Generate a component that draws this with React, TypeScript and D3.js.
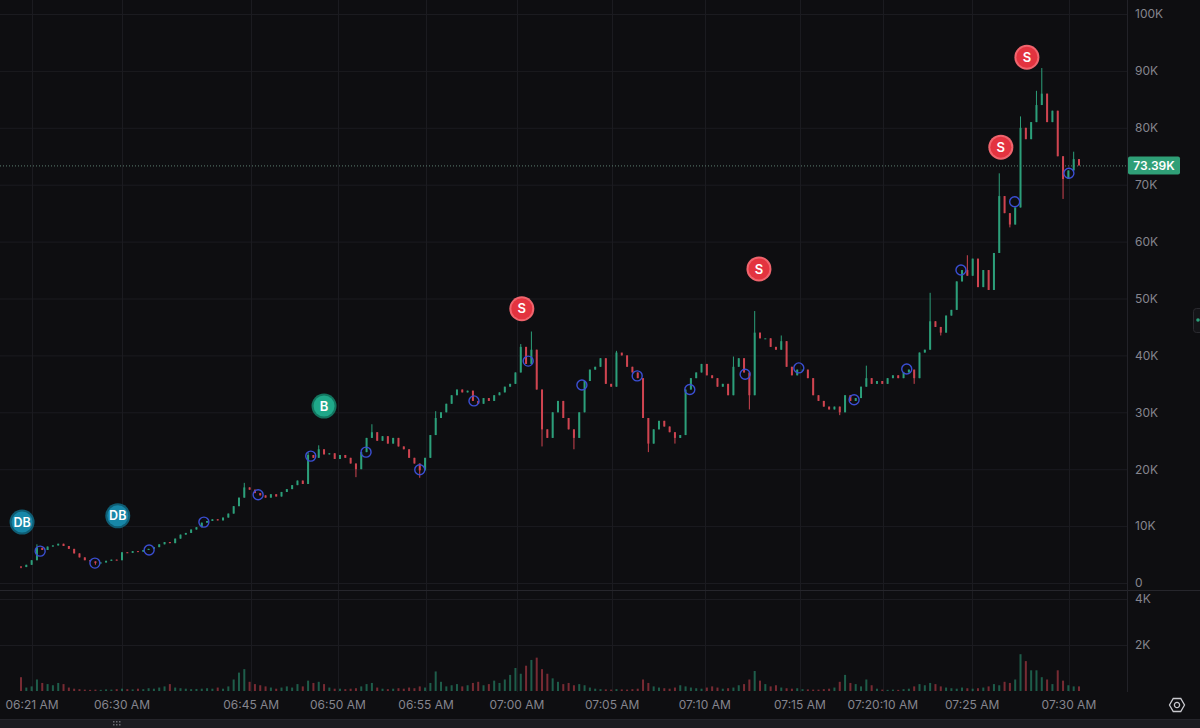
import React from "react";
import * as d3 from "d3";

// ---- data (prices in K, volumes in K) ----
const firstOpen = 2.9;
const closes = [
  2.8, 3.2, 4.0, 6.2, 5.8, 6.4, 6.6, 6.9, 6.5, 6.0,
  5.2, 4.5, 4.0, 3.8, 3.5, 3.6, 3.9, 4.1, 4.0, 5.4,
  5.3, 5.6, 5.5, 5.8, 6.0, 6.3, 6.8, 7.2, 7.0, 7.8,
  8.5, 8.8, 9.4, 9.8, 10.6, 10.9, 11.2, 11.0, 11.5, 12.2,
  13.5, 15.0, 16.8, 16.4, 15.8, 15.4, 15.0, 15.6, 15.2, 16.0,
  16.5, 17.2, 18.0, 17.4, 22.5, 22.0, 23.5, 22.6, 22.8, 21.8,
  22.5, 22.0, 21.0, 20.0, 23.0, 25.5, 26.5, 25.0, 25.8, 24.5,
  25.5, 24.0, 23.5, 22.0, 21.0, 19.8, 22.0, 26.0, 29.0, 30.0,
  31.5, 33.0, 34.0, 33.5, 33.8, 32.0, 31.5, 32.5, 32.0, 33.0,
  33.5, 34.5, 35.0, 37.0, 41.5, 38.5, 41.0, 34.0, 27.0, 25.5,
  30.0, 32.0, 29.0, 27.0, 25.5, 30.0, 35.5, 37.5, 38.0, 39.5,
  35.0, 34.5, 40.5, 40.0, 38.0, 37.0, 36.0, 29.0, 24.5, 27.0,
  28.5, 27.5, 26.5, 25.5, 26.0, 34.0, 36.0, 37.0, 38.5, 36.5,
  36.0, 34.5, 35.0, 33.0, 38.0, 39.5, 37.0, 33.0, 44.0, 43.0,
  43.0, 41.5, 41.0, 42.5, 38.0, 36.5, 37.5, 37.5, 36.0, 33.0,
  32.0, 31.0, 30.5, 31.0, 30.0, 33.0, 32.0, 32.5, 34.5, 36.0,
  35.0, 35.5, 35.0, 36.0, 36.5, 36.0, 37.0, 37.5, 36.0, 40.5,
  41.0, 46.0, 45.0, 44.0, 47.0, 48.0, 53.0, 55.0, 54.0, 57.0,
  52.0, 55.0, 51.5, 58.0, 68.0, 65.0, 63.0, 66.0, 80.0, 78.0,
  81.0, 84.0, 86.0, 81.0, 83.0, 75.0, 71.0, 72.5, 74.5, 73.39,
];

const highWicks: [number, number][] = [
  [3, 6.8], [42, 17.6], [54, 23.0], [56, 24.2], [66, 27.9], [78, 30.2],
  [94, 42.0], [96, 44.2], [112, 40.8], [113, 40.3], [134, 39.8], [138, 47.8],
  [143, 43.5], [159, 38.2], [171, 51.0], [178, 57.6], [184, 72.0], [188, 82.0],
  [191, 86.5], [192, 90.5], [198, 75.8],
];
const lowWicks: [number, number][] = [
  [0, 2.6], [14, 3.2], [63, 18.6], [75, 18.5], [98, 24.0], [104, 23.5],
  [118, 23.0], [123, 24.5], [137, 30.5], [154, 29.5], [168, 35.0], [173, 43.5],
  [186, 62.5], [196, 67.5],
];

const volumes = [
  0.6, 0.15, 0.2, 0.5, 0.35, 0.3, 0.25, 0.35, 0.3, 0.15,
  0.1, 0.08, 0.06, 0.05, 0.06, 0.05, 0.07, 0.06, 0.08, 0.1,
  0.08, 0.07, 0.1, 0.08, 0.12, 0.1, 0.15, 0.2, 0.3, 0.15,
  0.12, 0.1, 0.08, 0.09, 0.1, 0.12, 0.1, 0.15, 0.1, 0.2,
  0.5, 0.8, 0.95, 0.4, 0.3, 0.25, 0.2, 0.15, 0.1, 0.15,
  0.2, 0.15, 0.3, 0.2, 0.45, 0.35, 0.4, 0.3, 0.15, 0.1,
  0.1, 0.08, 0.1, 0.12, 0.2, 0.3, 0.35, 0.15, 0.1, 0.08,
  0.1, 0.12, 0.1, 0.15, 0.12, 0.2, 0.15, 0.35, 0.85, 0.4,
  0.2, 0.25, 0.3, 0.2, 0.25, 0.35, 0.4, 0.25, 0.3, 0.45,
  0.35, 0.5, 0.7, 1.0, 0.75, 1.1, 1.35, 1.45, 0.95, 0.75,
  0.55, 0.4, 0.3, 0.35, 0.25, 0.3, 0.25, 0.15, 0.1, 0.08,
  0.07, 0.06, 0.08, 0.07, 0.06, 0.08, 0.1, 0.5, 0.35, 0.2,
  0.15, 0.12, 0.1, 0.15, 0.25, 0.2, 0.15, 0.12, 0.1, 0.15,
  0.2, 0.15, 0.1, 0.12, 0.15, 0.25, 0.3, 0.5, 0.87, 0.45,
  0.3, 0.2, 0.25, 0.15, 0.12, 0.1, 0.12, 0.08, 0.07, 0.06,
  0.06, 0.08, 0.1, 0.15, 0.4, 0.7, 0.35, 0.3, 0.2, 0.5,
  0.25, 0.1, 0.06, 0.05, 0.06, 0.05, 0.08, 0.1, 0.2, 0.3,
  0.25, 0.35, 0.3, 0.2, 0.15, 0.12, 0.1, 0.15, 0.12, 0.1,
  0.12, 0.15, 0.2, 0.3, 0.25, 0.4, 0.35, 0.5, 1.6, 1.3,
  0.9, 0.9, 0.6, 0.5, 0.3, 0.9, 0.45, 0.25, 0.2, 0.2,
];

const priceTicks = [0, 10, 20, 30, 40, 50, 60, 70, 80, 90, 100];
const volumeTicks = [2, 4];
const timeTickIndex = [2.07, 19.0, 43.3, 59.6, 76.2, 93.3, 111.2, 128.6, 146.5, 162.1, 178.9, 197.1];
const timeTickLabels = [
  "06:21 AM", "06:30 AM", "06:45 AM", "06:50 AM", "06:55 AM", "07:00 AM",
  "07:05 AM", "07:10 AM", "07:15 AM", "07:20:10 AM", "07:25 AM", "07:30 AM",
];

const signalIndex = [0.2, 18.2, 57.0, 94.2, 138.8, 184.3, 189.2];
const signalPrice = [10.7, 11.8, 31.1, 48.2, 55.2, 76.6, 92.4];
const signalLabel = ["DB", "DB", "B", "S", "S", "S", "S"];

const dotIndex = [3.6, 13.9, 24.1, 34.4, 44.6, 54.5, 64.9, 75.0, 85.2, 95.4, 105.5, 115.9, 125.8, 136.2, 146.3, 156.7, 166.6, 176.8, 186.9, 197.1];
const dotPrice = [5.6, 3.5, 5.8, 10.7, 15.5, 22.3, 23.0, 19.9, 32.0, 39.0, 34.8, 36.4, 34.0, 36.7, 37.8, 32.2, 37.6, 55.0, 67.0, 72.0];

const lastPrice = 73.39;

// ---- styling ----
const W = 1200;
const H = 728;
const BG = "#0e0e11";
const GRID = "#1b1b20";
const AXIS_TEXT = "#85858e";
const UP = "#2c9f7a";
const DOWN = "#cf4450";
const FONT = "Inter, 'Noto Sans', sans-serif";

const signalStyle: Record<string, { fill: string; ring: string }> = {
  DB: { fill: "#1787a8", ring: "#0f5d74" },
  B: { fill: "#1fa889", ring: "#13755f" },
  S: { fill: "#e3333f", ring: "#f0646d" },
};

export default function App() {
  const plotRight = 1127;
  const x = d3.scaleLinear().domain([0, closes.length - 1]).range([21, 1079]);
  const y = d3.scaleLinear().domain([0, 100]).range([583, 14]);
  const yv = d3.scaleLinear().domain([0, 4]).range([691, 599]);

  const hiMap = new Map(highWicks);
  const loMap = new Map(lowWicks);
  const candles = closes.map((c, i) => {
    const o = i === 0 ? firstOpen : closes[i - 1];
    const hi = hiMap.has(i) ? (hiMap.get(i) as number) : Math.max(o, c);
    const lo = loMap.has(i) ? (loMap.get(i) as number) : Math.min(o, c);
    return { i, o, c, hi, lo, v: volumes[i], up: c >= o };
  });

  const bodyW = 2;

  return (
    <svg
      width={W}
      height={H}
      style={{ position: "absolute", left: 0, top: 0, background: BG, display: "block" }}
      fontFamily={FONT}
    >
      <rect x={0} y={0} width={W} height={H} fill={BG} />

      {/* horizontal grid */}
      {priceTicks.map((t) => (
        <line key={"hg" + t} x1={0} x2={plotRight} y1={y(t) + 0.5} y2={y(t) + 0.5} stroke={GRID} />
      ))}
      {volumeTicks.map((t) => (
        <line key={"vg" + t} x1={0} x2={plotRight} y1={yv(t) + 0.5} y2={yv(t) + 0.5} stroke={GRID} />
      ))}
      {/* vertical grid */}
      {timeTickIndex.map((t, k) => (
        <line key={"tg" + k} x1={Math.round(x(t)) + 0.5} x2={Math.round(x(t)) + 0.5} y1={0} y2={692} stroke={GRID} />
      ))}

      {/* pane separator */}
      <line x1={0} x2={W} y1={590.5} y2={590.5} stroke="#26262c" />
      {/* right axis border */}
      <line x1={plotRight + 0.5} x2={plotRight + 0.5} y1={0} y2={692} stroke="#222228" />

      {/* volume bars */}
      {candles.map((d) => (
        <rect
          key={"v" + d.i}
          x={x(d.i) - bodyW / 2}
          y={yv(d.v)}
          width={bodyW}
          height={Math.max(1, yv(0) - yv(d.v))}
          fill={d.up ? UP : DOWN}
          opacity={0.55}
        />
      ))}

      {/* last price dotted line */}
      <line
        x1={0}
        x2={plotRight}
        y1={y(lastPrice) + 0.5}
        y2={y(lastPrice) + 0.5}
        stroke="#5d7f71"
        strokeDasharray="1 2"
      />

      {/* candles */}
      {candles.map((d) => {
        const cx = x(d.i);
        const top = y(Math.max(d.o, d.c));
        const bot = y(Math.min(d.o, d.c));
        const col = d.up ? UP : DOWN;
        return (
          <g key={"c" + d.i}>
            <line x1={cx} x2={cx} y1={y(d.hi)} y2={y(d.lo)} stroke={col} strokeWidth={1} />
            <rect x={cx - bodyW / 2} y={top} width={bodyW} height={Math.max(1, bot - top)} fill={col} />
          </g>
        );
      })}

      {/* blue ring dots */}
      {dotIndex.map((di, k) => (
        <circle key={"d" + k} cx={x(di)} cy={y(dotPrice[k])} r={5} fill="none" stroke="#3b4fd4" strokeWidth={1.4} />
      ))}

      {/* signal markers */}
      {signalIndex.map((si, k) => {
        const st = signalStyle[signalLabel[k]];
        return (
          <g key={"s" + k} transform={`translate(${x(si)},${y(signalPrice[k])})`}>
            <circle r={12.5} fill={st.ring} />
            <circle r={10.5} fill={st.fill} />
            <text
              textAnchor="middle"
              dy="0.36em"
              fill="#ffffff"
              fontSize={signalLabel[k].length > 1 ? 12.5 : 13}
              fontWeight={600}
            >
              {signalLabel[k]}
            </text>
          </g>
        );
      })}

      {/* price axis labels */}
      {priceTicks.map((t) => (
        <text key={"pt" + t} x={1135} y={y(t)} dy="0.36em" fill={AXIS_TEXT} fontSize={12}>
          {t === 0 ? "0" : `${t}K`}
        </text>
      ))}
      {volumeTicks.map((t) => (
        <text key={"vt" + t} x={1135} y={yv(t)} dy="0.36em" fill={AXIS_TEXT} fontSize={12}>
          {`${t}K`}
        </text>
      ))}

      {/* last price tag */}
      <rect x={1128} y={y(lastPrice) - 9} width={52} height={18} rx={2} fill="#2f9f77" />
      <text x={1154} y={y(lastPrice)} dy="0.36em" textAnchor="middle" fill="#ffffff" fontSize={12} fontWeight={600}>
        {`${lastPrice.toFixed(2)}K`}
      </text>

      {/* time axis labels */}
      {timeTickIndex.map((t, k) => (
        <text key={"tt" + k} x={x(t)} y={705} dy="0.36em" textAnchor="middle" fill={AXIS_TEXT} fontSize={12}>
          {timeTickLabels[k]}
        </text>
      ))}

      {/* settings icon */}
      <g transform="translate(1177,705)" fill="none" stroke="#c9c9cf" strokeWidth={1.3}>
        <path d={d3.range(6).map((k) => {
          const a = (Math.PI / 3) * k;
          return `${k === 0 ? "M" : "L"}${(7.5 * Math.cos(a)).toFixed(2)},${(7.5 * Math.sin(a)).toFixed(2)}`;
        }).join("") + "Z"} />
        <circle r={2.6} />
      </g>

      {/* scrollbar */}
      <rect x={0} y={719} width={W} height={9} fill="#1c1c21" />
      <rect x={0} y={719} width={W} height={1} fill="#25252b" />
      {[0, 1, 2].map((k) => (
        <g key={"h" + k}>
          <rect x={113 + k * 3} y={721} width={1.5} height={1.5} fill="#6b6b73" />
          <rect x={113 + k * 3} y={724} width={1.5} height={1.5} fill="#6b6b73" />
        </g>
      ))}

      {/* right edge handle */}
      <rect x={1193.5} y={308.5} width={10} height={24} rx={3} fill="#141418" stroke="#2a2a30" />
      <circle cx={1198} cy={320} r={1.8} fill={UP} />
    </svg>
  );
}
